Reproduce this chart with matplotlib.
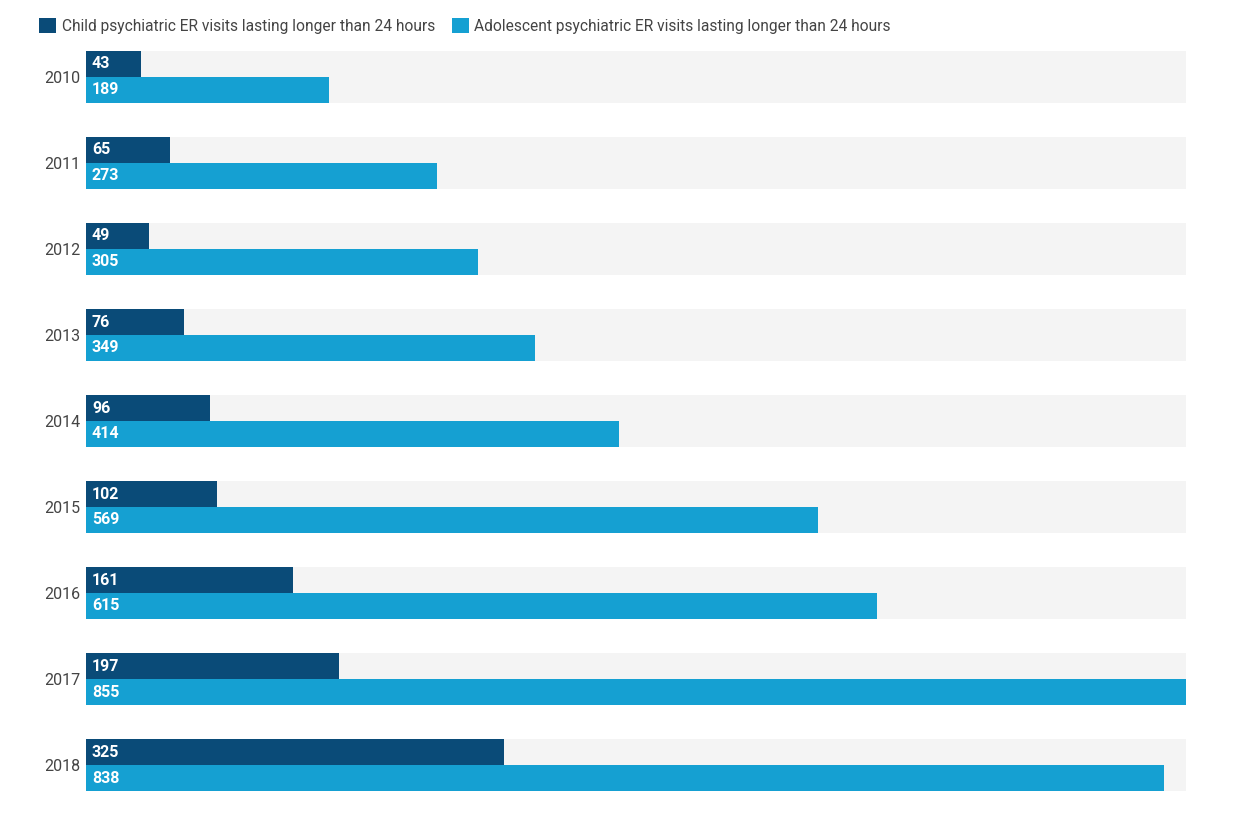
import matplotlib
matplotlib.use("Agg")
import matplotlib.pyplot as plt
from matplotlib.patches import Patch

years = ["2010", "2011", "2012", "2013", "2014", "2015", "2016", "2017", "2018"]
child = [43, 65, 49, 76, 96, 102, 161, 197, 325]
adolescent = [189, 273, 305, 349, 414, 569, 615, 855, 838]
series_names = ["Child psychiatric ER visits lasting longer than 24 hours",
                "Adolescent psychiatric ER visits lasting longer than 24 hours"]

dark = "#0a4b78"
light = "#15a0d2"
bg = "#f4f4f4"

plt.rcParams['font.family'] = ['Roboto', 'DejaVu Sans']

fig = plt.figure(figsize=(12.56, 8.15), dpi=100)
W, H = 1256, 815
ax = fig.add_axes([86 / W, 1 - 791 / H, (1186 - 86) / W, (791 - 51) / H])

xmax = max(adolescent)
n = len(years)
bh = 0.3
pos = list(range(n))

ax.barh(pos, [xmax] * n, height=2 * bh, color=bg, zorder=0)
ax.barh([p - bh / 2 for p in pos], child, height=bh, color=dark, zorder=2)
ax.barh([p + bh / 2 for p in pos], adolescent, height=bh, color=light, zorder=2)

for p, c, a in zip(pos, child, adolescent):
    ax.annotate(str(c), (0, p - bh / 2), xytext=(4.3, 0), textcoords="offset points",
                va="center", ha="left", color="white", fontsize=11.5, fontweight="bold", zorder=3)
    ax.annotate(str(a), (0, p + bh / 2), xytext=(4.3, 0), textcoords="offset points",
                va="center", ha="left", color="white", fontsize=11.5, fontweight="bold", zorder=3)

ax.set_xlim(0, xmax)
ax.set_ylim(n - 1 + bh, -bh)
ax.set_yticks(pos)
ax.set_yticklabels(years, fontsize=11.5, color="#444444")
ax.tick_params(axis="y", length=0, pad=4)
ax.set_xticks([])
for s in ax.spines.values():
    s.set_visible(False)

handles = [Patch(facecolor=dark, edgecolor="none"), Patch(facecolor=light, edgecolor="none")]
fig.legend(handles, series_names, loc="upper left", bbox_to_anchor=(25 / W, 1 - 4 / H),
           ncol=2, frameon=False, fontsize=11.2, handlelength=1.1, handleheight=1.1,
           handletextpad=0.35, columnspacing=1.1, labelcolor="#444444")

fig.savefig("out.png", dpi=100, facecolor="white")
